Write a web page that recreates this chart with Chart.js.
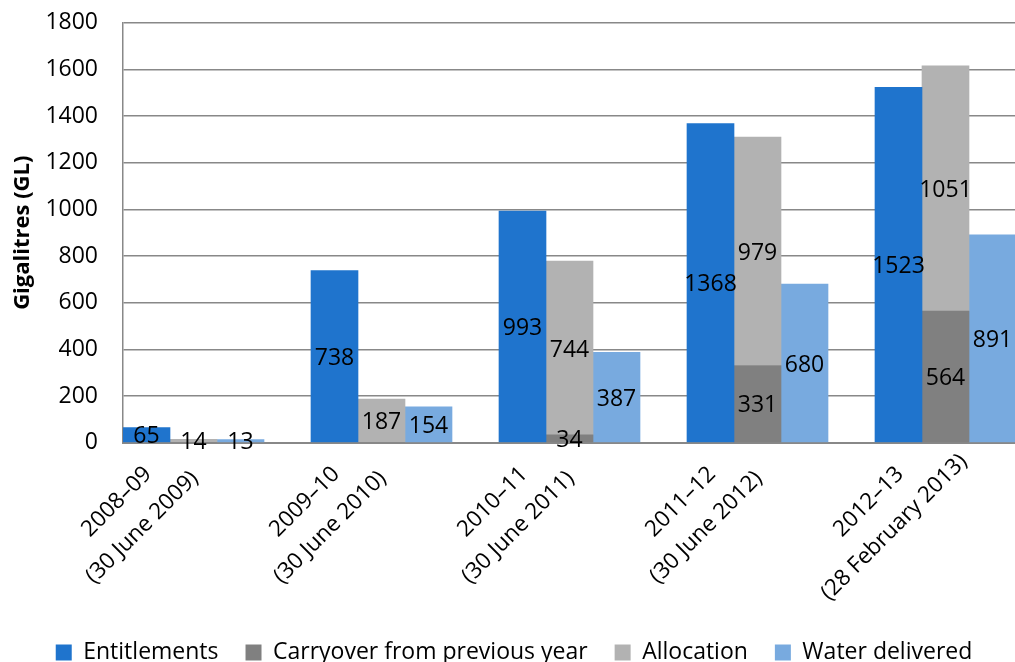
<!DOCTYPE html>
<html>
<head>
<meta charset="utf-8">
<title>Water entitlements</title>
<script src="https://cdn.jsdelivr.net/npm/chart.js@4.4.1/dist/chart.umd.min.js"></script>
<style>
  body{margin:0;background:#fff}
  #wrap{width:1015px;height:662px;overflow:hidden;position:relative}
  /* plot runs past the right edge, as in the cropped original */
  #box{width:1063px;height:674px;position:relative}
</style>
</head>
<body>
<div id="wrap"><div id="box"><canvas id="chartWater"></canvas></div></div>
<script>
const categories = [
  ['2008–09', '(30 June 2009)'],
  ['2009–10', '(30 June 2010)'],
  ['2010–11', '(30 June 2011)'],
  ['2011–12', '(30 June 2012)'],
  ['2012–13', '(28 February 2013)']
];
const entitlements = [65, 738, 993, 1368, 1523];
const carryover    = [0, 0, 34, 331, 564];
const allocation   = [14, 187, 744, 979, 1051];
const delivered    = [13, 154, 387, 680, 891];
const yTicks = [0, 200, 400, 600, 800, 1000, 1200, 1400, 1600, 1800];

const FONT = "'Open Sans', sans-serif";
const GRID = '#888888';
Chart.defaults.font.family = FONT;
Chart.defaults.color = '#000';

// value printed in the middle of each bar segment
const barLabels = {
  id: 'barLabels',
  afterDatasetsDraw(chart){
    const ctx = chart.ctx;
    ctx.save();
    ctx.font = '23px ' + FONT;
    ctx.fillStyle = '#000';
    ctx.textAlign = 'center';
    ctx.textBaseline = 'middle';
    chart.data.datasets.forEach((ds, d) => {
      if (!ds.label) return;
      chart.getDatasetMeta(d).data.forEach((el, i) => {
        const v = ds.data[i];
        if (!v) return;
        const p = el.getProps(['x','y','base'], true);
        ctx.fillText(String(v), p.x, (p.y + p.base) / 2 + 2);
      });
    });
    ctx.restore();
  }
};

// two-line category labels at 45°, lines centred on each other
const xLabels = {
  id: 'xLabels',
  afterDraw(chart){
    const sc = chart.scales.x, ctx = chart.ctx;
    ctx.save();
    ctx.font = '22.5px ' + FONT;
    ctx.fillStyle = '#000';
    ctx.textAlign = 'center';
    ctx.textBaseline = 'middle';
    chart.data.labels.forEach((lines, i) => {
      ctx.save();
      ctx.translate(sc.getPixelForTick(i) - 87.5, sc.top + 72);
      ctx.rotate(-Math.PI / 4);
      lines.forEach((t, j) => ctx.fillText(t, 0, (j - (lines.length - 1) / 2) * 36));
      ctx.restore();
    });
    ctx.restore();
  }
};

// legend is centred on the visible width, not the whole canvas
const legendShift = {
  id: 'legendShift',
  afterLayout(chart){
    const lg = chart.legend;
    lg.right = lg.left + 1028;
    lg.width = 1028;
  }
};

new Chart(document.getElementById('chartWater'), {
  type: 'bar',
  data: {
    labels: categories,
    datasets: [
      { label: 'Entitlements', data: entitlements, backgroundColor: '#1f74cd', stack: 'ent' },
      { label: 'Carryover from previous year', data: carryover, backgroundColor: '#808080', stack: 'alloc' },
      { label: 'Allocation', data: allocation, backgroundColor: '#b2b2b2', stack: 'alloc' },
      { label: 'Water delivered', data: delivered, backgroundColor: '#78aadf', stack: 'water' },
      // empty slot that leaves the gap after each group
      { label: '', data: categories.map(() => null), backgroundColor: 'transparent', stack: 'gap' }
    ]
  },
  options: {
    responsive: true, maintainAspectRatio: false, animation: false,
    layout: { padding: { top: 22.7, left: 0, right: 0, bottom: 0 } },
    datasets: { bar: { barPercentage: 1, categoryPercentage: 1 } },
    plugins: {
      legend: {
        position: 'bottom',
        labels: {
          boxWidth: 16, boxHeight: 16, padding: 27, color: '#000',
          font: { size: 23 },
          filter: item => item.text !== ''
        }
      },
      tooltip: { enabled: false }
    },
    scales: {
      x: {
        stacked: true,
        grid: { display: false },
        border: { color: GRID, width: 2 },
        ticks: { display: false },
        afterFit(sc){ sc.height = 171.3; }
      },
      y: {
        stacked: true, min: 0, max: 1800,
        // invisible tick marks give the gap between labels and axis
        grid: { color: GRID, lineWidth: 1.5, drawTicks: true, tickLength: 25, tickColor: 'transparent' },
        border: { color: GRID, width: 1.5 },
        ticks: { padding: 0, font: { size: 23 }, color: '#000', callback: v => String(v) },
        afterBuildTicks(sc){ sc.ticks = yTicks.map(v => ({ value: v })); },
        title: {
          display: true, text: 'Gigalitres (GL)', color: '#000',
          font: { size: 22, weight: 'bold' },
          padding: { top: 10, bottom: 0 }
        },
        afterFit(sc){ sc.width = 123; }
      }
    }
  },
  plugins: [barLabels, xLabels, legendShift]
});
</script>
</body>
</html>
